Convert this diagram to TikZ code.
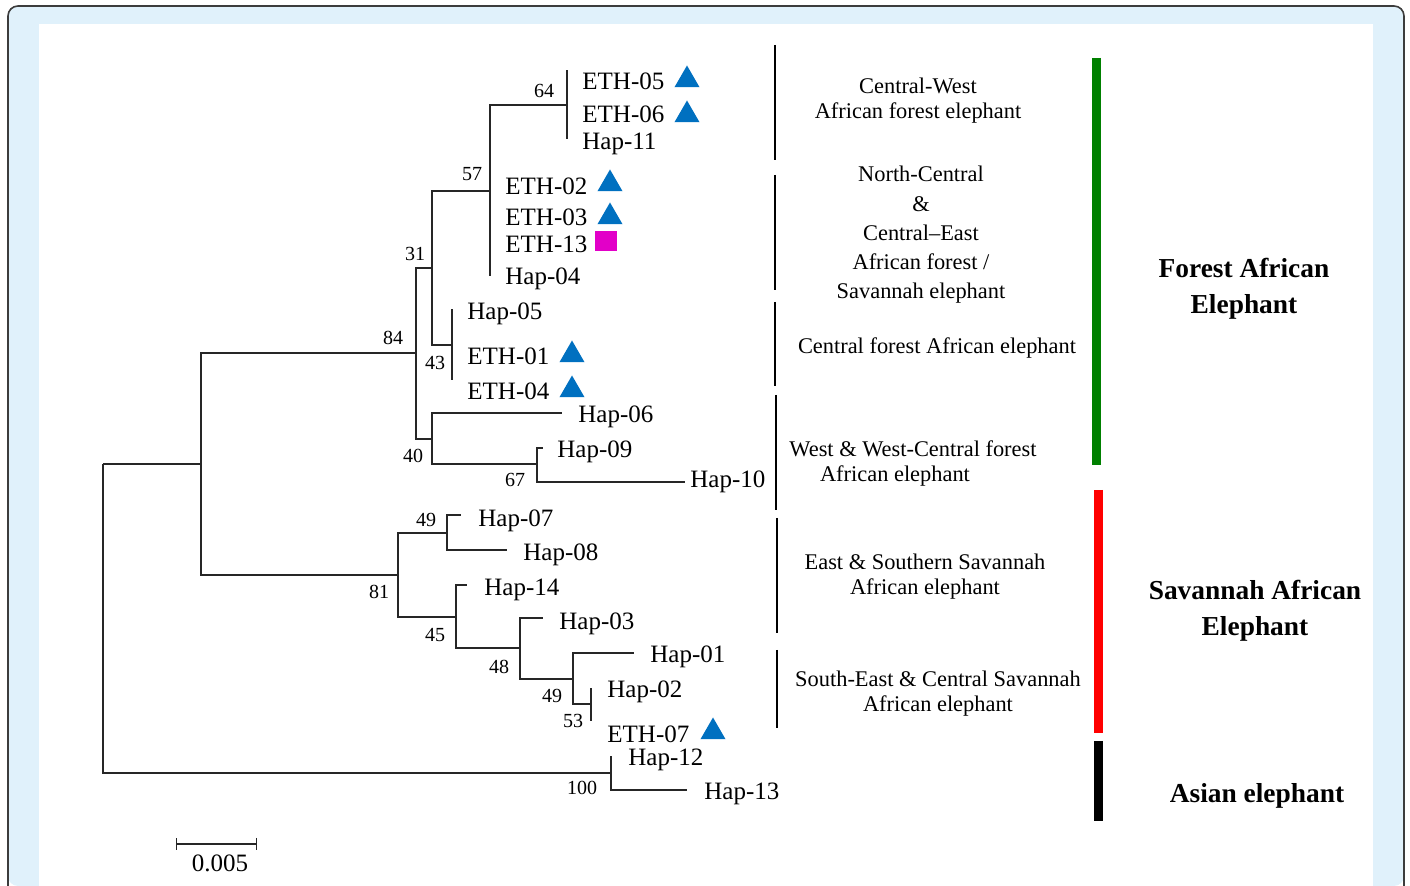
\documentclass[tikz,border=0pt]{standalone}
\usepackage{fontspec}
\setmainfont{Liberation Serif}
\usetikzlibrary{shapes.geometric, arrows.meta}
\definecolor{ethblue}{RGB}{0,112,192}
\definecolor{ethpink}{RGB}{226,0,200}
\definecolor{framebg}{RGB}{224,241,251}
\definecolor{framerule}{RGB}{60,60,60}
\definecolor{forestgreen}{RGB}{0,128,0}
\definecolor{savred}{RGB}{255,0,0}

\begin{document}
\begin{tikzpicture}[
    x=0.5pt, y=-0.5pt,
    treeline/.style={line width=0.7pt, black!85},
    leaf/.style={anchor=base west, inner sep=0pt, font=\fontsize{12.5}{14}\selectfont},
    boot/.style={inner sep=0pt, font=\fontsize{10}{12}\selectfont},
    clade/.style={align=center, inner sep=0pt, font=\fontsize{11.2}{12.5}\selectfont},
    group/.style={align=center, inner sep=0pt, font=\fontsize{13.7}{18}\selectfont\bfseries},
    cladebar/.style={line width=1.3pt, black},
    groupbar/.style={line width=4.5pt},
    ethmark/.style={regular polygon, regular polygon sides=3, minimum size=14.5pt, inner sep=0pt, fill=ethblue},
    ethsq/.style={rectangle, minimum width=11pt, minimum height=10pt, inner sep=0pt, fill=ethpink},
]

\useasboundingbox (0,0) rectangle (1410,886);
\fill[framebg, rounded corners=5pt] (8,6) rectangle (1404,886);
\draw[framerule, line width=0.8pt, rounded corners=5pt] (8,886) -- (8,6) -- (1404,6) -- (1404,886);
\fill[white] (39,24) rectangle (1373,886);

% internal nodes
\coordinate (root) at (103,464);
\coordinate (nA) at (201,464);
\coordinate (n84) at (416,353);
\coordinate (n31) at (432,268);
\coordinate (n57) at (490,191);
\coordinate (n64) at (567,105);
\coordinate (n43) at (452,345);
\coordinate (n40) at (432,439);
\coordinate (n67) at (537,464);
\coordinate (n81) at (398,575);
\coordinate (n49a) at (447,533);
\coordinate (n45) at (456,617);
\coordinate (n48) at (520,648);
\coordinate (n49b) at (573,679);
\coordinate (n53) at (591,704);
\coordinate (n100) at (611,773);

% branch ends
\coordinate (t64a) at (567,70);
\coordinate (t64b) at (567,139);
\coordinate (t57) at (490,276);
\coordinate (t43a) at (452,309);
\coordinate (t43b) at (452,380);
\coordinate (t06) at (562,413);
\coordinate (t09) at (543,448);
\coordinate (t10) at (685,482);
\coordinate (t07) at (461,515);
\coordinate (t08) at (507,550);
\coordinate (t14) at (467,585);
\coordinate (t03) at (543,618);
\coordinate (t01) at (634,653);
\coordinate (t53a) at (591,688);
\coordinate (t53b) at (591,721);
\coordinate (t12) at (611,756);
\coordinate (t13) at (687,790);

\draw[treeline] (root) |- (nA);
\draw[treeline] (root) |- (n100);
\draw[treeline] (nA) |- (n84);
\draw[treeline] (nA) |- (n81);
\draw[treeline] (n84) |- (n31);
\draw[treeline] (n84) |- (n40);
\draw[treeline] (n31) |- (n57);
\draw[treeline] (n31) |- (n43);
\draw[treeline] (n57) |- (n64);
\draw[treeline] (n57) -- (t57);
\draw[treeline] (n64) -- (t64a);
\draw[treeline] (n64) -- (t64b);
\draw[treeline] (n43) -- (t43a);
\draw[treeline] (n43) -- (t43b);
\draw[treeline] (n40) |- (t06);
\draw[treeline] (n40) |- (n67);
\draw[treeline] (n67) |- (t09);
\draw[treeline] (n67) |- (t10);
\draw[treeline] (n81) |- (n49a);
\draw[treeline] (n81) |- (n45);
\draw[treeline] (n49a) |- (t07);
\draw[treeline] (n49a) |- (t08);
\draw[treeline] (n45) |- (t14);
\draw[treeline] (n45) |- (n48);
\draw[treeline] (n48) |- (t03);
\draw[treeline] (n48) |- (n49b);
\draw[treeline] (n49b) |- (t01);
\draw[treeline] (n49b) |- (n53);
\draw[treeline] (n53) -- (t53a);
\draw[treeline] (n53) -- (t53b);
\draw[treeline] (n100) -- (t12);
\draw[treeline] (n100) |- (t13);

% haplotype labels
\node[leaf] (eth05) at (582,90) {ETH-05};
\node[leaf] (eth06) at (582,123) {ETH-06};
\node[leaf] (hap11) at (582,150) {Hap-11};
\node[leaf] (eth02) at (505,195) {ETH-02};
\node[leaf] (eth03) at (505,226) {ETH-03};
\node[leaf] (eth13) at (505,253) {ETH-13};
\node[leaf] (hap04) at (505,285) {Hap-04};
\node[leaf] (hap05) at (467,320) {Hap-05};
\node[leaf] (eth01) at (467,365) {ETH-01};
\node[leaf] (eth04) at (467,400) {ETH-04};
\node[leaf] (hap06) at (578,423) {Hap-06};
\node[leaf] (hap09) at (557,458) {Hap-09};
\node[leaf] (hap10) at (690,488) {Hap-10};
\node[leaf] (hap07) at (478,527) {Hap-07};
\node[leaf] (hap08) at (523,561) {Hap-08};
\node[leaf] (hap14) at (484,596) {Hap-14};
\node[leaf] (hap03) at (559,630) {Hap-03};
\node[leaf] (hap01) at (650,663) {Hap-01};
\node[leaf] (hap02) at (607,698) {Hap-02};
\node[leaf] (eth07) at (607,743) {ETH-07};
\node[leaf] (hap12) at (628,766) {Hap-12};
\node[leaf] (hap13) at (704,800) {Hap-13};

% markers
\node[ethmark] (m05) at (687,80) {};
\node[ethmark] (m06) at (687,115) {};
\node[ethmark] (m02) at (610,184) {};
\node[ethmark] (m03) at (610,217) {};
\node[ethsq] (m13) at (606,241) {};
\node[ethmark] (m01) at (572,355) {};
\node[ethmark] (m04) at (572,390) {};
\node[ethmark] (m07) at (713,732) {};

% bootstrap values
\node[boot] (b64) at (544,91) {64};
\node[boot] (b57) at (472,174) {57};
\node[boot] (b31) at (415,254) {31};
\node[boot] (b84) at (393,338) {84};
\node[boot] (b43) at (435,363) {43};
\node[boot] (b40) at (413,456) {40};
\node[boot] (b67) at (515,480) {67};
\node[boot] (b49a) at (426,520) {49};
\node[boot] (b81) at (379,592) {81};
\node[boot] (b45) at (435,635) {45};
\node[boot] (b48) at (499,667) {48};
\node[boot] (b49b) at (552,696) {49};
\node[boot] (b53) at (573,721) {53};
\node[boot] (b100) at (582,788) {100};

% clade bars and labels
\draw[cladebar] (775,45) -- (775,160);
\draw[cladebar] (775,175) -- (775,290);
\draw[cladebar] (775,302) -- (775,386);
\draw[cladebar] (776,395) -- (776,510);
\draw[cladebar] (777,518) -- (777,633);
\draw[cladebar] (777,650) -- (777,728);

\node[clade] (cw) at (918,101) {Central-West\\African forest elephant};
\node[clade, font=\fontsize{11.2}{14.6}\selectfont] (ncce) at (921,235) {North-Central\\\&\\Central–East\\African forest /\\Savannah elephant};
\node[clade] (cf) at (937,348) {Central forest African elephant};
\node[clade] (wwc) at (913,464) {West \& West-Central forest\\African elephant\hspace*{18pt}};
\node[clade] (es) at (925,577) {East \& Southern Savannah\\African elephant};
\node[clade] (sec) at (938,694) {South-East \& Central Savannah\\African elephant};

% species bars and labels
\draw[groupbar, forestgreen] (1096,58) -- (1096,465);
\draw[groupbar, savred] (1098,490) -- (1098,733);
\draw[groupbar, black] (1098,741) -- (1098,821);

\node[group] (forest) at (1244,289) {Forest African\\Elephant};
\node[group] (savannah) at (1255,611) {Savannah African\\Elephant};
\node[group] (asian) at (1257,796) {Asian elephant};

% scale bar
\coordinate (sbl) at (176,844);
\coordinate (sbr) at (257,844);
\draw[treeline, {Bar[width=6pt]}-{Bar[width=6pt]}] (sbl) -- (sbr);
\node[inner sep=0pt, font=\fontsize{12.5}{14}\selectfont] (sblabel) at (220,863) {0.005};

\end{tikzpicture}
\end{document}
